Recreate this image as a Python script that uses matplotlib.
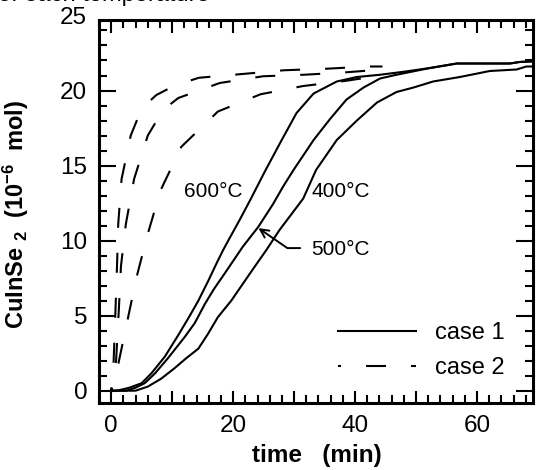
"""
CuInSe2 formation vs time, case 1 (solid) and case 2 (dashed) at three temperatures.
Output: out.png (537 x 470 px)
"""

import matplotlib
matplotlib.use("Agg")
import matplotlib.pyplot as plt
from matplotlib.ticker import MultipleLocator

plt.rcParams["font.family"] = ["Liberation Sans", "DejaVu Sans"]
plt.rcParams["mathtext.fontset"] = "custom"
plt.rcParams["mathtext.rm"] = "Liberation Sans"
plt.rcParams["mathtext.bf"] = "Liberation Sans:bold"
plt.rcParams["mathtext.default"] = "bf"
plt.rcParams["lines.scale_dashes"] = False

# ── data (time in min, CuInSe2 in 1e-6 mol) ──────────────────────────────────
# case 1 (solid)
t1_600 = [0, 1.0, 3.0, 5.0, 6.6, 8.8, 11.0, 12.9, 14.3, 15.9, 17.3, 18.4, 19.2,
          21.1, 22.8, 25.2, 27.7, 30.4, 33.2, 37.0, 40.3, 44.1, 48.0,
          52.3, 56.7, 61.0, 65.4, 67.0, 69.5]
n1_600 = [0, 0, 0.2, 0.5, 1.16, 2.27, 3.7, 5.0, 6.0, 7.3, 8.5, 9.4, 10.0,
          11.4, 12.7, 14.6, 16.5, 18.5, 19.8, 20.6, 20.9, 21.05, 21.25,
          21.5, 21.8, 21.8, 21.8, 21.9, 21.95]

t1_500 = [0, 2.5, 4.0, 5.5, 7.2, 9.3, 12.1, 13.7, 15.4, 16.9, 18.6, 21.6,
          24.1, 26.5, 28.2, 29.9, 33.2, 35.9, 38.6, 41.4, 44.1, 46.8, 52.3,
          56.7, 61.0, 65.4, 67.0, 69.5]
n1_500 = [0, 0, 0.2, 0.5, 1.16, 2.16, 3.6, 4.5, 5.8, 6.8, 7.8, 9.6,
          10.9, 12.4, 13.6, 14.7, 16.7, 18.1, 19.4, 20.2, 20.8, 21.05, 21.5,
          21.8, 21.8, 21.8, 21.9, 21.95]

t1_400 = [0, 4.0, 6.0, 8.2, 10.4, 12.3, 14.3, 15.9, 17.5, 19.7, 21.9, 23.6,
          25.5, 27.6, 31.5, 33.6, 37.0, 40.3, 43.6, 46.8, 49.6, 52.8, 57.2,
          62.1, 66.5, 68.1, 69.5]
n1_400 = [0, 0, 0.27, 0.8, 1.5, 2.16, 2.8, 3.8, 4.9, 6.0, 7.3, 8.3,
          9.4, 10.7, 12.8, 14.7, 16.7, 18.0, 19.2, 19.9, 20.2, 20.6, 20.9,
          21.3, 21.4, 21.6, 21.6]

# case 2 (dashed)
t2_600 = [0, 0.4, 0.7, 0.95, 1.15, 1.7, 3.2, 5.0, 7.4, 10.5, 14.4, 21.5,
          28.4, 35.2, 42.2, 44.5]
n2_600 = [0, 2.0, 5.4, 8.3, 11.1, 14.1, 17.0, 18.8, 19.7, 20.35, 20.85, 21.1,
          21.35, 21.45, 21.6, 21.6]

t2_500 = [0, 0.8, 1.25, 1.6, 2.4, 3.75, 6.0, 8.5, 11.0, 17.8, 24.9, 31.6,
          38.1, 44.5]
n2_500 = [0, 2.0, 5.4, 8.3, 11.1, 14.1, 17.0, 18.7, 19.5, 20.5, 20.95, 21.05,
          21.2, 21.4]

t2_400 = [0, 1.2, 2.65, 4.15, 6.0, 8.1, 11.5, 17.5, 24.5, 31.5, 38.6, 42.6,
          44.5]
n2_400 = [0, 1.85, 4.65, 7.55, 10.45, 13.35, 16.25, 18.6, 19.75, 20.3, 20.65,
          20.9, 21.0]

x_major = [0, 10, 20, 30, 40, 50, 60]
x_labels = ["0", "", "20", "", "40", "", "60"]
y_major = [0, 5, 10, 15, 20]

DASH = (12.2, (14.4, 18.0))   # short piece, long dash, short piece in the legend

fig = plt.figure(figsize=(5.37, 4.70), dpi=100)
ax = fig.add_axes([0.1844, 0.1426, 0.8082, 0.8149])

kw = dict(color="black", linewidth=1.5)
ax.plot(t1_600, n1_600, label="case 1", **kw)
ax.plot(t1_500, n1_500, **kw)
ax.plot(t1_400, n1_400, **kw)
ax.plot(t2_600, n2_600, linestyle=DASH, label="case 2", **kw)
ax.plot(t2_500, n2_500, linestyle=DASH, **kw)
ax.plot(t2_400, n2_400, linestyle=DASH, **kw)

ax.set_xlim(-2, 69.2)
ax.set_ylim(-0.82, 24.7)

ax.set_xticks(x_major)
ax.set_xticklabels(x_labels)
ax.set_yticks(y_major)
ax.xaxis.set_minor_locator(MultipleLocator(2))
ax.yaxis.set_minor_locator(MultipleLocator(1))
ax.tick_params(which="both", direction="in", top=True, right=True,
               width=1.5, labelsize=17.5)
ax.tick_params(axis="x", which="major", length=9, pad=9)
ax.tick_params(axis="y", which="major", length=12, pad=8.5)
ax.tick_params(which="minor", length=5.5)
for s in ax.spines.values():
    s.set_linewidth(2.2)

# the original draws the 25 label just above the frame
ax.text(-0.0276, 25, "25", transform=ax.get_yaxis_transform(),
        ha="right", va="center_baseline", fontsize=17.5, clip_on=False)

ax.set_xlabel("time   (min)", fontsize=17.5, fontweight="bold")
ax.xaxis.set_label_coords(0.503, -0.108)
ax.set_ylabel("CuInSe $_2$  (10$^{-6}$  mol)", fontsize=17, fontweight="bold")
ax.yaxis.set_label_coords(-0.157, 0.492)

ax.text(12.0, 13.3, "600°C", fontsize=15, ha="left", va="center")
ax.text(32.8, 13.3, "400°C", fontsize=15, ha="left", va="center")
ax.text(32.8, 9.4, "500°C", fontsize=15, ha="left", va="center")
ax.annotate("", xy=(24.15, 10.83), xytext=(31.0, 9.5),
            arrowprops=dict(arrowstyle="->", color="black", lw=1.4,
                            shrinkA=0, shrinkB=0, mutation_scale=15,
                            connectionstyle="angle,angleA=0,angleB=-34.6,rad=0"))

ax.legend(loc="upper left", bbox_to_anchor=(0.551, 0.212), frameon=False,
          fontsize=17, handlelength=3.3, handletextpad=0.8, labelspacing=0.58,
          borderpad=0, borderaxespad=0)

# title line cut off at the top edge of the original image
fig.text(-0.004, 1 - 0.9 / 470, "of each temperature", fontsize=17,
         ha="left", va="baseline")

fig.savefig("out.png", dpi=100)
